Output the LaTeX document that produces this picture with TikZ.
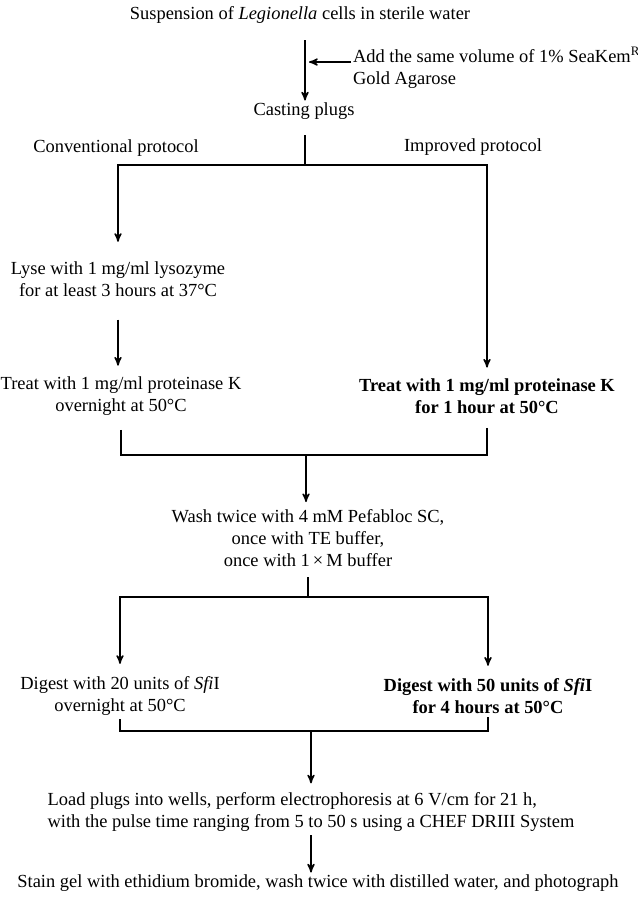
\documentclass[tikz,border=0pt]{standalone}
\usepackage{fontspec}
\setmainfont{Liberation Serif}
\usepackage{tikz}
\usetikzlibrary{calc,arrows,positioning}
\tikzset{
>=stealth',
  stage/.style={
    inner sep=1pt,
    align=center,
    font=\fontsize{10.5}{12.5}\selectfont},
  stagebold/.style={
    stage,
    font=\fontsize{10.5}{12.5}\selectfont\bfseries},
  line/.style={draw, thick},
  pil/.style={draw, thick, ->},
}

\begin{document}
\begin{tikzpicture}[x=0.02cm, y=-0.02cm]
		\useasboundingbox (0,0) rectangle (637,897);
		% steps
		\node[stage] (suspension) at (300,15) {Suspension of \emph{Legionella} cells in sterile water};
		\node[stage, anchor=west, align=left] (agarose) at (351,68) {Add the same volume of 1\% SeaKem\textsuperscript{R}\\Gold Agarose};
		\node[stage] (casting) at (304,111) {Casting plugs};
		\node[stage] (conventional) at (116,148) {Conventional protocol};
		\node[stage] (improved) at (473,147) {Improved protocol};
		\node[stage] (lyse) at (118,279) {Lyse with 1 mg/ml lysozyme\\for at least 3 hours at 37°C};
		\node[stage] (prot-conv) at (121,396) {Treat with 1 mg/ml proteinase K\\overnight at 50°C};
		\node[stagebold] (prot-impr) at (487,396) {Treat with 1 mg/ml proteinase K\\for 1 hour at 50°C};
		\node[stage] (wash) at (308,538) {Wash twice with 4 mM Pefabloc SC,\\once with TE buffer,\\once with 1\,×\,M buffer};
		\node[stage] (digest-conv) at (120,696) {Digest with 20 units of \emph{Sfi}I\\overnight at 50°C};
		\node[stagebold] (digest-impr) at (488,696) {Digest with 50 units of \emph{Sfi}I\\for 4 hours at 50°C};
		\node[stage, align=left] (load) at (311,812) {Load plugs into wells, perform electrophoresis at 6 V/cm for 21 h,\\with the pulse time ranging from 5 to 50 s using a CHEF DRIII System};
		\node[stage] (stain) at (318,883) {Stain gel with ethidium bromide, wash twice with distilled water, and photograph};
		% junctions
		\coordinate (start) at (305,40);
		\coordinate (feed) at (309,62);
		\coordinate (split-a) at (305,135);
		\coordinate (fork-a) at (305,165);
		\coordinate (merge-a) at (306,455);
		\coordinate (fork-b) at (308,597);
		\coordinate (merge-b) at (311,731);
		% connectors
		\draw[pil] (start) -- (casting.north -| start);
		\draw[pil] (agarose.west |- feed) -- (feed);
		\draw[line] (split-a) -- (fork-a);
		\draw[pil, shorten >=10pt] (fork-a) -| (lyse.north);
		\draw[pil, shorten >=5pt] (fork-a) -| (prot-impr.north);
		\draw[pil, shorten <=12pt, shorten >=5pt] (lyse.south) -- (lyse.south |- prot-conv.north);
		\draw[line, shorten <=7pt] (prot-conv.south) |- (merge-a);
		\draw[line, shorten <=7pt] (prot-impr.south) |- (merge-a);
		\draw[pil, shorten >=3pt] (merge-a) -- (wash.north -| merge-a);
		\draw[line, shorten <=5pt] (wash.south) -- (fork-b);
		\draw[pil, shorten >=6pt] (fork-b) -| (digest-conv.north);
		\draw[pil, shorten >=6pt] (fork-b) -| (digest-impr.north);
		\draw[line, shorten <=1pt] (digest-conv.south) |- (merge-b);
		\draw[line, shorten <=1pt] (digest-impr.south) |- (merge-b);
		\draw[pil, shorten >=4pt] (merge-b) -- (load.north -| merge-b);
		\draw[pil, shorten <=1pt] (load.south) -- (load.south |- stain.north);
	\end{tikzpicture}
\end{document}
